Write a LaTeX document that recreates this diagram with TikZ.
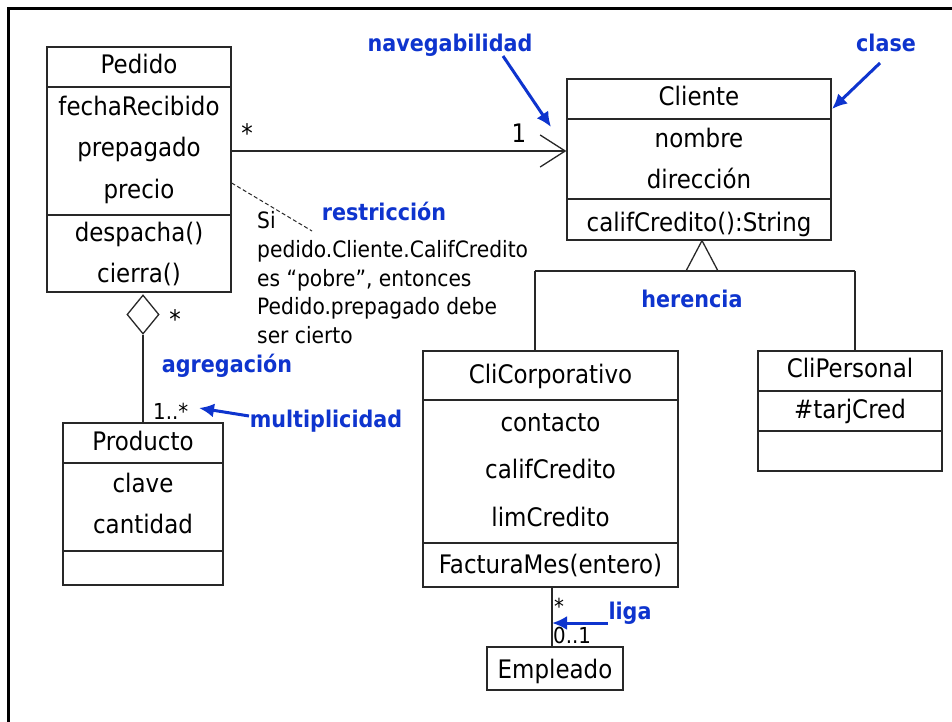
\documentclass[tikz,border=0pt]{standalone}
\usepackage{fontspec}
\setmainfont[FakeStretch=0.9]{DejaVu Sans}
\usetikzlibrary{arrows.meta,shapes.geometric}
\definecolor{notablue}{RGB}{14,52,206}
\definecolor{umlline}{RGB}{40,40,40}

\begin{document}
\begin{tikzpicture}[x=1pt,y=-1pt,
  box/.style={draw=umlline,line width=1.3pt,rectangle,inner sep=0pt},
  divline/.style={draw=umlline,line width=1.3pt},
  conn/.style={draw=umlline,line width=1.3pt},
  txt/.style={anchor=base,inner sep=0pt,font=\fontsize{25.5}{30}\selectfont},
  small/.style={anchor=base,inner sep=0pt,font=\fontsize{22}{26}\selectfont},
  notetxt/.style={anchor=base west,inner sep=0pt,font=\fontsize{22.5}{27}\selectfont},
  lbl/.style={anchor=base,inner sep=0pt,text=notablue,font=\fontsize{23}{27}\selectfont\bfseries},
  bluearrow/.style={draw=notablue,line width=3pt,-{Latex[length=15pt,width=14pt]}}
]
\useasboundingbox (0,0) rectangle (952,722);
\fill[white] (0,0) rectangle (952,722);

% frame
\draw[line width=2.6pt] (8.3,730) -- (8.3,8.3) -- (960,8.3);

% ---------- Pedido ----------
\node[box,minimum width=184pt,minimum height=245pt] (pedido) at (139,169.5) {};
\draw[divline] (pedido.west |- 0,87) -- (pedido.east |- 0,87);
\draw[divline] (pedido.west |- 0,215) -- (pedido.east |- 0,215);
\node[txt] (pedT) at (139,74) {Pedido};
\node[txt] (pedA1) at (139,116) {fechaRecibido};
\node[txt] (pedA2) at (139,157) {prepagado};
\node[txt] (pedA3) at (139,198) {precio};
\node[txt] (pedO1) at (139,241) {despacha()};
\node[txt] (pedO2) at (139,282) {cierra()};

% ---------- Cliente ----------
\node[box,minimum width=264pt,minimum height=161pt] (cliente) at (699,159.5) {};
\draw[divline] (cliente.west |- 0,119) -- (cliente.east |- 0,119);
\draw[divline] (cliente.west |- 0,199) -- (cliente.east |- 0,199);
\node[txt] (cliT) at (699,106) {Cliente};
\node[txt] (cliA1) at (699,148) {nombre};
\node[txt] (cliA2) at (699,189) {dirección};
\node[txt] (cliO1) at (699,231) {califCredito():String};

% ---------- CliCorporativo ----------
\node[box,minimum width=255pt,minimum height=236pt] (corp) at (550.5,469) {};
\draw[divline] (corp.west |- 0,400) -- (corp.east |- 0,400);
\draw[divline] (corp.west |- 0,543) -- (corp.east |- 0,543);
\node[txt] (corpT) at (550.5,383) {CliCorporativo};
\node[txt] (corpA1) at (550.5,431) {contacto};
\node[txt] (corpA2) at (550.5,478) {califCredito};
\node[txt] (corpA3) at (550.5,526) {limCredito};
\node[txt] (corpO1) at (550.5,573) {FacturaMes(entero)};

% ---------- CliPersonal ----------
\node[box,minimum width=184pt,minimum height=120pt] (pers) at (850,411) {};
\draw[divline] (pers.west |- 0,391) -- (pers.east |- 0,391);
\draw[divline] (pers.west |- 0,431) -- (pers.east |- 0,431);
\node[txt] (persT) at (850,377) {CliPersonal};
\node[txt] (persA1) at (850,418) {\#tarjCred};

% ---------- Producto ----------
\node[box,minimum width=160pt,minimum height=162pt] (prod) at (143,504) {};
\draw[divline] (prod.west |- 0,463) -- (prod.east |- 0,463);
\draw[divline] (prod.west |- 0,551) -- (prod.east |- 0,551);
\node[txt] (prodT) at (143,450) {Producto};
\node[txt] (prodA1) at (143,492) {clave};
\node[txt] (prodA2) at (143,533) {cantidad};

% ---------- Empleado ----------
\node[box,minimum width=136pt,minimum height=43pt] (emp) at (555,668.5) {};
\node[txt] (empT) at (555,678) {Empleado};

% ---------- association Pedido -> Cliente ----------
\draw[conn,-{Straight Barb[length=25pt,width=32pt,line width=1.3pt]}]
  (pedido.east |- 0,151) -- (cliente.west |- 0,151);
\node[txt] (m1) at (247,143) {*};
\node[txt] (m2) at (519,143) {1};

% ---------- generalization ----------
\coordinate (apex) at (702,240.6);
\coordinate (tl) at (686,271);
\coordinate (tr) at (718,271);
\coordinate (gl) at (535,271);
\coordinate (gr) at (855,271);
\draw[conn,line join=miter] (tl) -- (apex) -- (tr);
\draw[conn] (gl) -- (gr);
\draw[conn] (gl) -- (corp.north -| gl);
\draw[conn] (gr) -- (pers.north -| gr);

% ---------- aggregation ----------
\node[draw=umlline,line width=1.3pt,diamond,inner sep=0pt,minimum width=32pt,minimum height=39pt] (dia) at (143,314.5) {};
\draw[conn] (dia.south) -- (prod.north);
\node[txt] (m3) at (175,328) {*};
\node[small] (m4) at (153,419) [anchor=base west] {1..*};

% ---------- link CliCorporativo - Empleado ----------
\draw[conn] (corp.south -| 552,0) -- (emp.north -| 552,0);
\node[small] (m5) at (559,614) {*};
\node[small] (m6) at (553,643) [anchor=base west] {0..1};

% ---------- constraint note ----------
\coordinate (noteend) at (312,231);
\draw[conn,line width=1pt,dash pattern=on 4pt off 2.5pt] (pedido.east |- 0,183) -- (noteend);
\node[notetxt] (n1) at (257,228) {Si};
\node[notetxt] (n2) at (257,257) {pedido.Cliente.CalifCredito};
\node[notetxt] (n3) at (257,286) {es “pobre”, entonces};
\node[notetxt] (n4) at (257,314) {Pedido.prepagado debe};
\node[notetxt] (n5) at (257,343) {ser cierto};

% ---------- blue annotations ----------
\node[lbl] (lnav) at (450,52) {navegabilidad};
\node[lbl] (lclase) at (886,52) {clase};
\node[lbl] (lres) at (384,220) {restricción};
\node[lbl] (lher) at (692,307) {herencia};
\node[lbl] (lagr) at (227,372) {agregación};
\node[lbl] (lmul) at (326,427) {multiplicidad};
\node[lbl] (lliga) at (630,619) {liga};

\coordinate (navfrom) at (503,56);
\coordinate (navto) at (551,127);
\coordinate (clfrom) at (880,63);
\coordinate (clto) at (832,109);
\coordinate (mulfrom) at (249,416);
\coordinate (multo) at (199,408);
\coordinate (ligafrom) at (608,623);
\coordinate (ligato) at (552,623);
\draw[bluearrow] (navfrom) -- (navto);
\draw[bluearrow] (clfrom) -- (clto);
\draw[bluearrow] (mulfrom) -- (multo);
\draw[bluearrow] (ligafrom) -- (ligato);
\end{tikzpicture}
\end{document}
